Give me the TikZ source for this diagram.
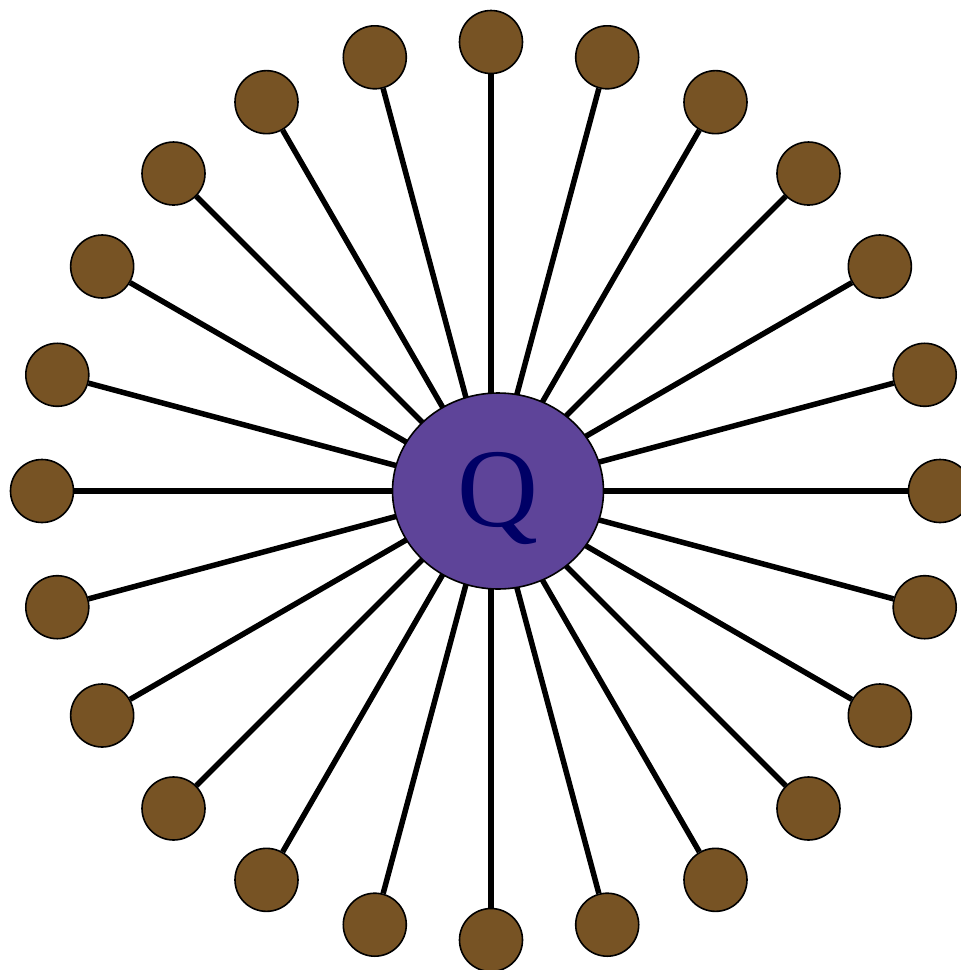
\documentclass[tikz,border=0pt]{standalone}
\usepackage{fontspec}
\setmainfont{Liberation Serif}
\usetikzlibrary{backgrounds,calc,shapes.geometric}
\definecolor{hubfill}{HTML}{5E4499}
\definecolor{qtext}{HTML}{000066}
\definecolor{leaf}{HTML}{775324}
\tikzset{
  leafnode/.style={circle, draw=black, line width=1.6pt, fill=leaf, minimum size=63pt, inner sep=0pt},
  hubnode/.style={ellipse, draw=black, line width=1.6pt, fill=hubfill, minimum width=211pt, minimum height=196pt, inner sep=0pt},
  qlabel/.style={inner sep=0pt, anchor=base, text=qtext, font=\fontsize{112}{112}\selectfont},
  spoke/.style={draw=black, line width=5.5pt}
}
\begin{document}
\begin{tikzpicture}[x=1pt,y=-1pt]
\useasboundingbox (0,0) rectangle (961,970);
\coordinate (c) at (491,491);
\foreach \i in {0,...,23} {
  \node[leafnode] (o\i) at ($(c)+({15*\i}:449)$) {};
}
\node[hubnode] (q) at (498,491) {};
\node[qlabel] (qtext) at (498,526) {Q};
\begin{pgfonlayer}{background}
\foreach \i in {0,...,23} {
  \draw[spoke] (c) -- (o\i);
}
\end{pgfonlayer}
\end{tikzpicture}
\end{document}
